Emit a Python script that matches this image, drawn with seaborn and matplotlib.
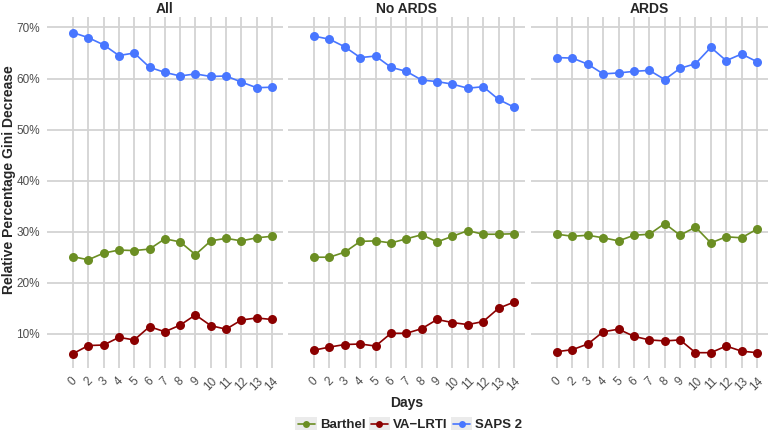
import numpy as np
import pandas as pd
import matplotlib
matplotlib.use("Agg")
import matplotlib.pyplot as plt
import seaborn as sns
from matplotlib.legend_handler import HandlerLine2D
from matplotlib.lines import Line2D
from matplotlib.patches import Rectangle

days = ["0", "2", "3", "4", "5", "6", "7", "8", "9", "10", "11", "12", "13", "14"]
panels = ["All", "No ARDS", "ARDS"]
series = ["Barthel", "VA\u2212LRTI", "SAPS 2"]

all_barthel = [25.1, 24.5, 25.8, 26.4, 26.3, 26.6, 28.6, 28.0, 25.5, 28.2, 28.7, 28.2, 28.8, 29.1]
all_valrti = [6.1, 7.7, 7.8, 9.3, 8.8, 11.4, 10.4, 11.7, 13.7, 11.6, 10.9, 12.7, 13.1, 12.8]
all_saps = [69.0, 68.0, 66.6, 64.5, 65.0, 62.2, 61.2, 60.5, 60.9, 60.4, 60.5, 59.3, 58.2, 58.3]

noards_barthel = [25.0, 25.0, 26.0, 28.1, 28.2, 27.8, 28.6, 29.4, 28.0, 29.1, 30.2, 29.5, 29.5, 29.6]
noards_valrti = [6.8, 7.4, 7.9, 8.0, 7.6, 10.1, 10.1, 11.0, 12.8, 12.2, 11.8, 12.4, 15.0, 16.2]
noards_saps = [68.3, 67.7, 66.2, 64.1, 64.4, 62.2, 61.4, 59.7, 59.4, 58.9, 58.1, 58.4, 55.9, 54.4]

ards_barthel = [29.5, 29.1, 29.3, 28.8, 28.2, 29.3, 29.5, 31.6, 29.3, 30.9, 27.8, 29.0, 28.8, 30.5]
ards_valrti = [6.5, 6.9, 8.0, 10.4, 10.9, 9.5, 8.8, 8.6, 8.8, 6.3, 6.3, 7.6, 6.6, 6.3]
ards_saps = [64.1, 64.0, 62.8, 60.9, 61.1, 61.4, 61.6, 59.8, 62.0, 62.9, 66.1, 63.5, 64.8, 63.3]

values = {
    "All": [all_barthel, all_valrti, all_saps],
    "No ARDS": [noards_barthel, noards_valrti, noards_saps],
    "ARDS": [ards_barthel, ards_valrti, ards_saps],
}

rows = []
for p in panels:
    for s, vals in zip(series, values[p]):
        for i, (d, v) in enumerate(zip(days, vals)):
            rows.append({"panel": p, "series": s, "pos": i, "day": d, "value": v})
df = pd.DataFrame(rows)

palette = {"Barthel": "#6B8E23", "VA\u2212LRTI": "#8B0000", "SAPS 2": "#4876FF"}

sns.set_style("white")
plt.rcParams["font.family"] = ["Liberation Sans", "DejaVu Sans"]

W, H = 768, 436
fig = plt.figure(figsize=(W / 100, H / 100), dpi=100)
panel_px = [(47, 283), (288, 525), (531, 768)]
top_px, bot_px = 17, 368

grid_c = "#D3D3D3"
tick_c = "#4D4D4D"
axes = []
for k, p in enumerate(panels):
    x0, x1 = panel_px[k]
    ax = fig.add_axes([x0 / W, (H - bot_px) / H, (x1 - x0) / W, (bot_px - top_px) / H])
    axes.append(ax)
    sub = df[df.panel == p]
    sns.lineplot(data=sub, x="pos", y="value", hue="series", palette=palette,
                 hue_order=series, marker="o", markersize=6.5, markeredgewidth=0,
                 linewidth=1.2, ax=ax, legend=False, zorder=3)
    ax.set_xlim(-1.7, 13.72)
    ax.set_ylim(3.3, 72.05)
    ax.set_xticks(range(len(days)))
    ax.set_yticks([10, 20, 30, 40, 50, 60, 70])
    ax.grid(True, color=grid_c, linewidth=1.3, zorder=0)
    ax.set_axisbelow(True)
    for sp in ax.spines.values():
        sp.set_visible(False)
    ax.set_xticklabels(days, rotation=45, ha="center", va="top", rotation_mode="default",
                       fontsize=8.5, color=tick_c)
    ax.tick_params(axis="x", length=3, width=1, color="#333333", pad=2)
    if k == 0:
        ax.set_yticklabels([f"{v}%" for v in [10, 20, 30, 40, 50, 60, 70]], fontsize=8.5, color=tick_c)
        ax.tick_params(axis="y", length=3, width=1, color="#333333", pad=2)
        ax.set_ylabel("")
    else:
        ax.tick_params(axis="y", length=0, labelleft=False)
        ax.set_ylabel("")
    ax.set_xlabel("")
    ax.set_title(p, fontsize=10, fontweight="bold", pad=3)

fig.text(9 / W, 1 - 180 / H, "Relative Percentage Gini Decrease", rotation=90,
         ha="center", va="center", fontsize=10, fontweight="bold")
fig.text(407 / W, 1 - 403 / H, "Days", ha="center", va="center", fontsize=10, fontweight="bold")


class KeyHandler(HandlerLine2D):
    def create_artists(self, legend, orig_handle, xdescent, ydescent, width, height, fontsize, trans):
        arts = super().create_artists(legend, orig_handle, xdescent, ydescent, width, height, fontsize, trans)
        pad = 1.5
        rect = Rectangle((-xdescent - pad, -ydescent - pad), width + 2 * pad, height + 2 * pad,
                         facecolor="#EBEBEB", edgecolor="none", transform=trans, zorder=0)
        return [rect] + list(arts)


handles = [Line2D([], [], color=palette[s], marker="o", markersize=5, markeredgewidth=0, linewidth=1.2)
           for s in series]
fig.legend(handles, series, loc="center", bbox_to_anchor=(410 / W, 1 - 425 / H), ncol=3,
           frameon=False, fontsize=9.5, handlelength=1.3, handletextpad=0.4, columnspacing=0.4,
           handler_map={Line2D: KeyHandler()})
for t in fig.legends[0].get_texts():
    t.set_fontweight("bold")

fig.savefig("out.png", dpi=100)
